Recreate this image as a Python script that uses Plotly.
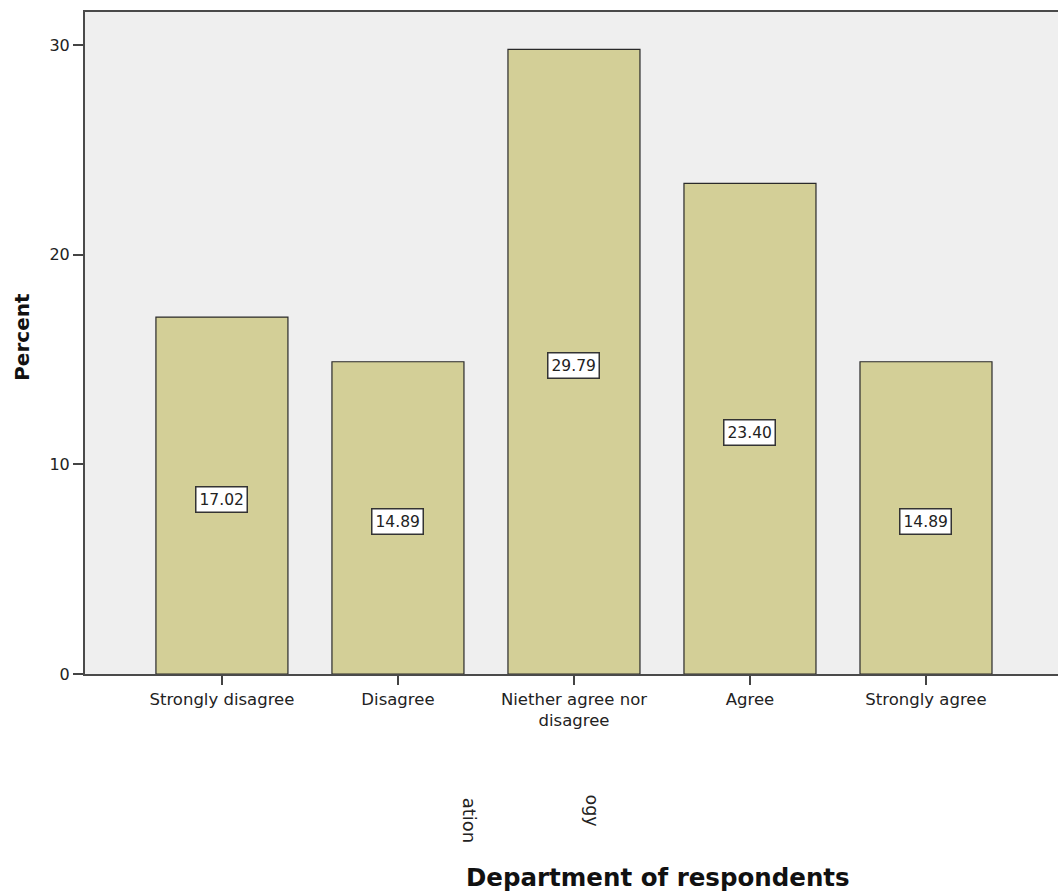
import plotly.graph_objects as go

# Response categories and their percentages
categories = ["Strongly disagree", "Disagree", "Niether agree nor<br>disagree", "Agree", "Strongly agree"]
percents = [17.02, 14.89, 29.79, 23.40, 14.89]
y_ticks = [0, 10, 20, 30]

FONT = "DejaVu Sans, Verdana, sans-serif"
positions = list(range(len(categories)))

fig = go.Figure()
fig.add_trace(go.Bar(
    x=positions,
    y=percents,
    width=0.75,
    marker=dict(color="#d3cf97", line=dict(color="#2a2a2a", width=1.2)),
    hoverinfo="skip",
))

# Value labels sit halfway up each bar in a boxed label
for xi, v in zip(positions, percents):
    fig.add_annotation(
        x=xi, y=v / 2, yshift=-4, text=f"{v:.2f}", showarrow=False,
        font=dict(family=FONT, size=15.5, color="#222"),
        bgcolor="white", bordercolor="#333", borderwidth=1.5, borderpad=3,
    )

# Axis titles and truncated rotated labels below the axis
fig.add_annotation(
    x=-0.065, y=0.509, xref="paper", yref="paper", text="<b>Percent</b>",
    xanchor="center", yanchor="middle",
    textangle=-90, showarrow=False, font=dict(family=FONT, size=20, color="#111"),
)
fig.add_annotation(
    x=0.589, y=-0.307, xref="paper", yref="paper", text="<b>Department of respondents</b>",
    xanchor="center", yanchor="middle",
    showarrow=False, font=dict(family=FONT, size=24.5, color="#111"),
)
fig.add_annotation(
    x=0.3946, y=-0.2215, xref="paper", yref="paper", text="ation",
    xanchor="center", yanchor="middle",
    textangle=90, showarrow=False, font=dict(family=FONT, size=18, color="#222"),
)
fig.add_annotation(
    x=0.521, y=-0.206, xref="paper", yref="paper", text="ogy",
    xanchor="center", yanchor="middle",
    textangle=90, showarrow=False, font=dict(family=FONT, size=17.5, color="#222"),
)

fig.update_layout(
    width=1058, height=894,
    margin=dict(l=85, r=0, t=12, b=220),
    paper_bgcolor="white",
    plot_bgcolor="#efefef",
    showlegend=False,
    font=dict(family=FONT, size=15, color="#222"),
    xaxis=dict(
        range=[-0.778, 4.75],
        tickmode="array", tickvals=positions, ticktext=categories,
        ticks="outside", ticklen=9, tickcolor="#444", tickwidth=1.5,
        showline=True, linecolor="#4a4a4a", linewidth=2, mirror=True,
        showgrid=False, zeroline=False,
        tickfont=dict(family=FONT, size=16.5, color="#222"),
    ),
    yaxis=dict(
        range=[0, 31.57],
        tickmode="array", tickvals=y_ticks,
        ticks="outside", ticklen=10, tickcolor="#444", tickwidth=1.5,
        showline=True, linecolor="#4a4a4a", linewidth=2,
        showgrid=False, zeroline=False,
        tickfont=dict(family=FONT, size=16, color="#222"),
    ),
)

fig.write_html("out.html")
